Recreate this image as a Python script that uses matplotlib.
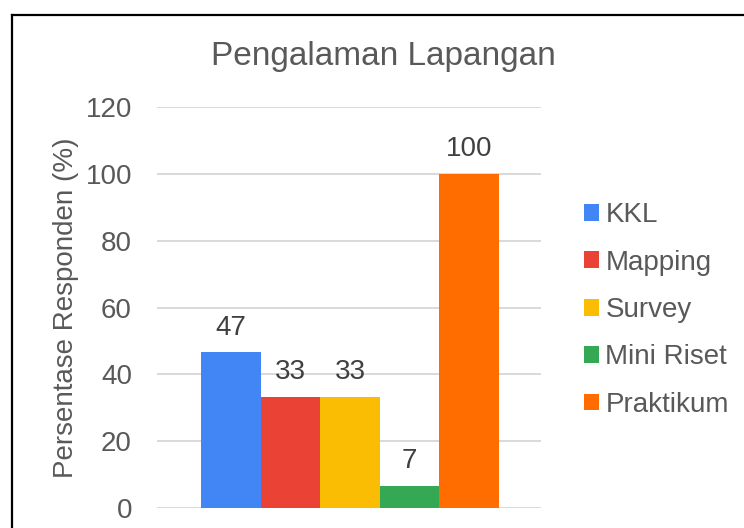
import matplotlib.pyplot as plt
from matplotlib.lines import Line2D

plt.rcParams['font.family'] = ['Liberation Sans', 'DejaVu Sans']

# Data
series = ["KKL", "Mapping", "Survey", "Mini Riset", "Praktikum"]
values = [46.67, 33.33, 33.33, 6.67, 100]
colors = ["#4285F4", "#EA4335", "#FBBC04", "#34A853", "#FF6D01"]
yticks = [0, 20, 40, 60, 80, 100, 120]

TEXT = "#595959"
LABEL = "#404040"

fig = plt.figure(figsize=(7.44, 5.28), dpi=100)
ax = fig.add_axes([157 / 744, 20 / 528, 384 / 744, 401 / 528])

# one category, five series side by side
bars = []
for i, (name, val, col) in enumerate(zip(series, values, colors)):
    b = ax.bar(i, val, width=1.0, color=col, label=name, zorder=3)
    bars.append(b)
    ax.annotate(f"{val:.0f}", xy=(i, val), xytext=(0, 12.5),
                textcoords="offset points", ha="center", va="baseline",
                fontsize=20, color=LABEL)

ax.set_xlim(-1.24, 5.21)
ax.set_ylim(0, 120)
ax.set_yticks(yticks)
ax.set_xticks([])
ax.tick_params(axis="y", length=0, pad=18, labelsize=20, labelcolor=TEXT)
ax.grid(axis="y", color="#D9D9D9", linewidth=1.4, zorder=0)
for s in ax.spines.values():
    s.set_visible(False)
ax.set_ylabel("Persentase Responden (%)", fontsize=20, color=TEXT, labelpad=5)

fig.text(383 / 744, 1 - 57 / 528, "Pengalaman Lapangan", ha="center", va="center",
         fontsize=24, color=TEXT)

fig.legend(handles=bars, labels=series, loc="center left",
           bbox_to_anchor=(584 / 744, 1 - 310 / 528), frameon=False,
           fontsize=20, labelcolor=TEXT, handlelength=0.55, handleheight=0.55,
           handletextpad=0.22, labelspacing=0.77, borderpad=0, borderaxespad=0)

# chart frame (left and top edges visible in the crop)
fig.add_artist(Line2D([12 / 744, 12 / 744], [0, 1 - 15 / 528], color="black",
                      linewidth=1.6, transform=fig.transFigure))
fig.add_artist(Line2D([12 / 744, 1], [1 - 15 / 528, 1 - 15 / 528], color="black",
                      linewidth=1.6, transform=fig.transFigure))

fig.savefig("out.png", dpi=100)
